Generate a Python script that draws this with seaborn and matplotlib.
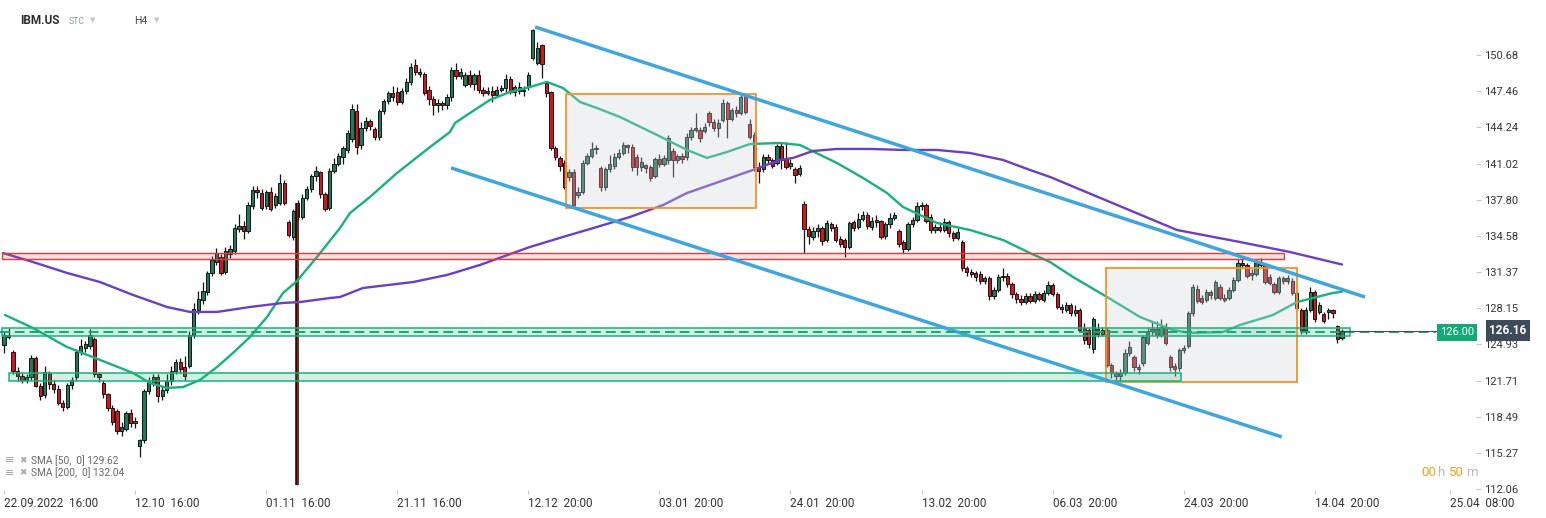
import numpy as np
import pandas as pd
import matplotlib
matplotlib.use("Agg")
import matplotlib.pyplot as plt
import matplotlib.transforms as mtransforms
from matplotlib.patches import Rectangle
import seaborn as sns

# ---------------- data (IBM.US, H4) ----------------
opens = [
    124.9,125.8,124.3,122.6,122.1,121.8,122.0,123.7,121.2,120.4,
    122.4,121.4,121.0,119.7,119.4,121.3,122.0,124.3,124.6,124.8,
    125.4,122.3,121.5,120.5,119.3,119.0,117.2,117.4,118.8,117.9,
    115.9,116.4,120.8,121.5,122.0,120.3,120.9,121.7,122.6,123.4,
    122.9,123.0,125.8,128.0,128.9,129.6,131.3,132.3,132.7,131.4,
    133.0,133.2,135.2,135.5,135.0,137.2,138.7,138.4,137.2,138.5,
    137.3,137.5,139.3,135.8,134.5,137.5,136.3,138.0,138.8,139.9,
    140.3,138.3,137.1,140.4,141.0,141.6,142.2,143.2,145.7,142.7,
    144.2,144.8,144.1,143.4,145.7,146.6,147.3,147.4,146.5,147.5,
    148.3,149.8,149.2,149.0,147.6,146.8,146.2,146.4,146.2,146.9,
    149.3,148.8,148.0,148.9,148.1,148.9,147.6,147.3,147.5,147.1,
    147.6,147.7,148.5,147.4,147.8,147.5,147.8,150.4,150.0,151.6,
    148.2,147.4,142.4,141.5,141.1,139.8,140.3,138.2,138.5,141.1,
    141.7,142.3,140.6,138.9,140.5,140.8,141.6,142.0,142.7,142.5,
    141.6,140.7,140.9,140.7,139.9,141.4,141.0,141.3,142.1,141.3,
    141.7,141.6,143.4,144.0,144.0,143.9,145.5,144.7,144.2,144.9,
    146.4,145.0,145.8,145.5,146.9,144.5,143.6,140.7,140.5,141.6,
    141.3,141.1,142.6,141.5,140.8,140.5,140.1,137.4,135.2,134.5,
    135.0,135.3,134.2,135.6,135.4,134.3,134.2,133.6,135.8,135.4,
    136.1,136.4,135.4,135.8,135.9,134.6,135.6,136.2,135.0,134.0,
    133.4,135.6,136.0,137.2,137.3,136.3,135.1,135.4,135.1,135.8,
    134.8,134.4,134.0,131.7,131.4,131.3,131.2,130.6,130.8,129.2,
    129.8,130.9,131.0,130.3,129.4,129.0,128.7,129.2,128.8,129.4,
    128.9,129.5,130.2,129.4,128.3,128.0,128.4,127.7,128.0,126.4,
    126.2,124.5,126.3,125.9,126.2,123.1,122.4,122.1,122.4,124.2,
    123.8,122.9,123.3,125.1,126.1,126.3,125.8,126.5,123.8,123.0,
    122.8,124.4,124.8,127.7,129.9,129.1,128.9,129.6,129.1,130.0,
    129.1,129.1,129.8,130.7,132.2,132.0,131.1,131.2,132.2,132.0,
    130.9,130.3,129.6,130.8,130.6,130.6,129.5,128.0,126.2,128.0,
    129.6,127.8,127.6,127.8,128.0,126.6,125.5,
]
highs = [
    126.0,126.4,124.4,122.9,122.4,122.3,124.0,123.9,121.5,123.0,
    122.6,121.8,121.3,120.0,121.5,122.0,124.5,125.4,125.2,126.3,
    125.6,122.4,121.8,120.6,119.5,119.2,118.0,119.0,119.2,118.5,
    116.5,121.0,122.0,122.3,122.3,121.2,122.3,123.0,123.6,123.7,
    123.9,126.1,128.6,129.7,130.5,131.5,132.8,133.5,133.0,133.6,
    133.8,135.6,136.5,135.9,137.6,139.0,139.0,138.8,138.7,138.9,
    138.4,140.1,139.6,136.0,137.0,137.8,138.3,139.0,140.1,140.8,
    140.4,138.5,140.6,141.5,142.0,142.6,144.0,146.3,146.3,144.7,
    145.2,145.0,144.3,145.9,146.8,147.5,147.9,147.8,147.7,148.6,
    150.0,150.3,149.5,149.2,147.9,147.0,146.8,146.6,147.2,149.6,
    150.0,149.5,149.2,149.3,149.1,149.3,147.8,147.8,147.9,147.9,
    148.0,149.0,148.8,148.0,148.3,147.9,149.2,153.0,151.8,151.7,
    148.4,147.5,142.6,141.7,141.3,140.5,140.5,138.9,141.3,142.0,
    142.9,142.7,140.8,140.7,141.8,142.0,142.3,142.9,142.8,142.8,
    141.9,141.6,141.0,140.9,141.6,141.9,141.8,143.6,142.4,141.9,
    142.0,143.7,144.3,145.5,144.3,144.6,145.7,145.0,145.0,146.8,
    146.6,146.0,146.1,147.3,147.2,145.0,143.8,141.2,141.9,141.9,
    141.5,142.8,142.9,142.9,141.4,140.7,140.9,137.7,135.5,135.4,
    135.6,135.5,136.0,135.8,135.6,134.6,134.4,135.9,136.0,136.6,
    136.8,136.7,136.3,136.4,136.0,135.8,136.6,136.7,135.2,134.2,
    135.8,136.3,137.6,137.6,137.5,136.5,135.6,135.8,136.2,136.0,
    135.0,135.3,134.2,131.9,131.6,131.5,131.5,131.0,131.0,130.0,
    131.2,131.7,131.3,130.5,129.6,129.3,129.5,129.5,129.7,129.6,
    129.8,130.6,130.4,129.6,128.5,128.7,128.6,128.4,128.2,126.8,
    126.4,127.4,126.8,126.5,126.4,123.3,122.6,122.7,124.5,125.2,
    124.0,123.2,125.8,126.4,127.0,127.0,127.2,126.8,124.0,123.3,
    124.6,124.9,127.9,130.3,130.2,129.3,129.9,129.8,130.7,130.3,
    129.4,130.0,130.9,132.5,132.6,132.2,131.6,132.5,132.6,132.2,
    131.2,130.5,131.0,131.0,131.1,130.8,129.7,128.2,128.3,130.0,
    129.8,128.7,127.8,128.2,128.1,126.7,126.3,
]
lows = [
    124.2,125.4,122.3,121.7,121.5,121.5,121.8,121.1,120.0,120.2,
    121.0,120.6,119.5,119.0,119.2,121.0,121.8,124.0,124.3,124.5,
    122.0,121.6,120.2,119.0,117.8,117.0,116.8,117.2,117.6,117.5,
    114.9,116.2,120.5,121.2,119.8,120.0,120.6,121.3,122.3,122.4,
    121.8,122.8,125.5,127.6,128.5,129.3,131.0,132.0,131.1,131.2,
    132.6,133.0,134.9,134.3,134.8,137.0,138.0,136.9,137.0,136.8,
    137.1,137.3,137.3,134.5,134.2,136.0,136.1,137.8,138.5,139.5,
    138.0,136.8,136.9,140.2,140.8,141.0,142.0,142.9,141.9,142.3,
    143.9,144.0,143.1,143.1,145.4,146.3,146.6,146.2,146.3,147.2,
    148.0,148.9,148.7,147.1,146.2,145.3,145.6,145.8,145.9,146.6,
    148.5,148.5,147.8,147.8,147.6,147.3,147.0,147.1,146.5,146.9,
    147.4,147.4,147.2,147.0,147.2,147.0,147.6,150.2,149.8,148.6,
    146.9,142.2,141.3,140.4,138.8,139.5,137.1,138.0,138.3,140.9,
    141.5,141.9,138.6,138.7,140.3,140.5,141.4,141.8,142.0,140.4,
    140.0,140.4,140.2,139.5,139.7,140.7,140.8,141.0,139.8,141.1,
    141.1,141.3,143.1,143.8,142.9,143.7,144.4,143.9,143.4,144.7,
    143.3,144.8,145.2,145.3,145.4,143.2,140.4,139.3,140.3,141.0,
    140.6,140.9,140.5,140.5,140.5,139.3,139.9,133.1,133.9,134.2,
    134.5,133.8,134.0,135.0,134.0,133.6,132.7,133.4,135.0,135.2,
    135.9,135.2,135.1,135.4,134.3,134.3,135.3,136.0,133.6,133.1,
    133.2,135.4,135.8,136.9,135.7,134.8,134.8,134.9,134.9,134.5,
    134.1,134.2,131.5,131.0,130.9,130.6,130.3,130.3,128.9,129.0,
    129.6,130.6,130.0,129.1,128.6,128.4,128.5,128.6,128.6,128.8,
    128.7,129.3,129.2,128.1,127.7,127.8,127.5,127.5,126.0,125.0,
    124.6,124.2,125.6,125.7,122.9,121.9,121.6,121.7,122.2,123.9,
    122.6,122.3,123.0,124.9,125.8,125.5,125.6,124.9,122.6,122.1,
    122.6,124.2,124.6,127.5,128.6,128.5,128.7,129.0,128.9,128.9,
    128.7,128.9,129.6,130.5,131.7,130.8,130.7,131.0,131.8,130.3,
    130.2,129.4,129.4,130.3,130.3,129.3,127.9,125.9,125.9,127.8,
    126.9,127.6,126.8,127.2,127.3,125.1,125.3,
]
closes = [
    125.8,125.6,122.6,122.1,121.8,122.0,123.7,121.2,120.3,122.5,
    121.4,121.0,119.7,119.4,121.3,121.8,124.3,124.8,125.0,125.8,
    122.3,122.0,120.5,119.3,118.0,117.2,117.6,118.8,117.9,118.1,
    116.4,120.8,121.6,122.0,120.3,120.9,121.7,122.6,123.4,122.7,
    122.1,125.8,128.1,129.0,129.7,131.3,132.4,133.1,131.3,133.2,
    133.4,135.3,135.5,135.0,137.3,138.7,138.5,137.1,138.5,137.0,
    138.1,139.3,137.5,134.7,136.8,136.3,138.0,138.8,139.9,140.4,
    138.3,137.0,140.4,141.0,141.7,142.4,143.7,145.9,142.5,144.2,
    144.8,144.4,143.4,145.7,146.6,147.3,146.9,146.5,147.5,148.3,
    149.6,149.2,149.0,147.3,146.8,146.2,146.4,146.2,146.9,149.3,
    148.8,149.2,148.9,148.1,148.9,147.6,147.3,147.5,147.1,147.6,
    147.7,148.5,147.4,147.8,147.5,147.6,148.9,152.9,151.3,149.9,
    147.3,142.4,141.6,140.8,138.9,140.3,137.3,138.5,141.1,141.7,
    142.3,142.4,138.9,140.5,141.0,141.6,142.0,142.7,142.5,140.7,
    140.7,141.2,140.6,139.7,141.4,141.0,141.5,143.3,141.3,141.7,
    141.4,143.4,144.0,144.2,143.3,144.3,144.7,144.2,144.6,146.4,
    145.0,145.8,145.5,146.9,145.6,143.4,140.7,140.4,141.6,141.3,
    140.8,142.6,141.3,140.7,141.1,140.0,140.6,135.2,134.6,135.0,
    135.3,134.1,135.7,135.3,134.2,133.9,133.6,135.7,135.3,136.1,
    136.4,135.5,135.9,136.0,134.5,135.6,136.2,136.4,133.9,133.4,
    135.6,136.0,137.2,137.3,135.9,135.1,135.4,135.1,135.8,134.8,
    134.4,134.9,131.7,131.4,131.2,130.9,130.6,130.8,129.2,129.8,
    130.9,131.0,130.3,129.4,129.0,128.7,129.2,128.8,129.4,129.0,
    129.5,130.2,129.4,128.3,128.1,128.4,127.7,128.0,126.2,125.3,
    125.0,127.2,125.9,126.2,123.1,122.4,122.1,122.4,124.2,124.7,
    122.9,122.7,125.6,126.1,126.3,125.8,126.5,125.1,122.9,122.7,
    124.4,124.6,127.7,130.0,128.8,128.7,129.6,129.3,130.5,129.1,
    128.9,129.8,130.7,132.2,132.0,131.0,131.3,132.2,132.0,130.5,
    130.4,129.6,130.8,130.6,130.8,129.5,128.2,126.2,128.0,129.6,
    127.2,128.4,127.0,128.0,127.7,125.4,126.16,
]

# moving averages (bar position, value)
sma50_bars = [0.22,6.42,13.94,21.24,28.54,32.30,36.06,39.60,43.36,47.12,
              50.66,54.42,58.19,61.73,64.82,69.25,74.34,76.55,80.97,86.95,
              94.25,98.67,99.78,103.10,107.52,111.95,116.37,120.13,123.67,127.43,
              131.19,136.28,143.58,151.11,155.53,159.96,165.04,171.68,176.11,178.32,
              184.29,190.04,195.35,198.89,206.42,213.72,221.02,226.99,231.42,236.50,
              244.03,251.33,258.63,262.39,269.69,273.45,280.75,286.06,290.49,294.03,
              296.02]
sma50 = [127.55,126.39,124.70,123.55,122.39,121.50,121.06,121.14,121.77,122.92,
         124.17,125.59,127.37,129.51,130.57,132.71,135.29,136.62,138.05,140.18,
         142.49,143.83,144.63,145.52,146.68,147.39,147.83,148.28,147.74,146.50,
         145.96,145.16,143.74,142.23,141.52,142.05,142.76,142.85,142.67,142.23,
         141.07,139.74,138.40,137.16,135.73,135.11,134.22,133.06,132.26,130.93,
         129.15,127.37,126.21,125.95,126.04,126.66,127.55,128.70,129.15,129.51,
         129.62]
sma200_bars = [-0.22,6.42,13.94,21.24,28.54,36.06,41.15,47.12,54.42,61.73,
               65.49,72.12,74.34,79.42,90.49,98.01,105.31,112.61,116.37,123.67,
               131.19,138.50,145.80,151.11,165.71,171.68,174.56,178.98,184.29,191.59,
               198.89,206.42,213.72,221.02,226.99,231.42,259.51,273.45,284.51,296.02]
sma200 = [133.06,132.26,131.29,130.48,129.33,128.26,127.82,127.82,128.26,128.62,
          128.70,129.06,129.15,129.95,130.48,131.11,132.00,133.06,133.60,134.49,
          135.38,136.27,137.33,138.40,140.45,141.34,141.52,142.14,142.32,142.32,
          142.23,142.23,141.96,141.34,140.45,139.83,135.11,134.04,133.15,132.04]

ytick_vals = [150.68,147.46,144.24,141.02,137.80,134.58,131.37,128.15,124.93,
              121.71,118.49,115.27,112.06]
xtick_bars = [0,29,58,87,116,145,174,203,232,261,290,320]
xtick_labels = ["22.09.2022  16:00","12.10  16:00","01.11  16:00","21.11  16:00",
                "12.12  20:00","03.01  20:00","24.01  20:00","13.02  20:00",
                "06.03  20:00","24.03  20:00","14.04  20:00","25.04  08:00"]

# drawings: [bar_start, bar_end, price_low, price_high]
red_zone = [-0.44, 283.2, 132.53, 133.06]
green_zone_hi = [-0.44, 297.8, 125.68, 126.39]
green_zone_lo = [1.1, 260.4, 121.68, 122.39]
box1 = [124.3, 166.4, 137.07, 147.21]
box2 = [243.8, 286.1, 121.59, 131.73]
channel_upper = [[117.5, 301.1], [153.17, 129.15]]
channel_lower = [[98.9, 282.7], [140.63, 116.70]]
vline_bar, vline_top, vline_bottom = 64.8, 137.5, 112.4
level_price = 126.00
last_price = 126.16
sma50_last, sma200_last = 129.62, 132.04

# ---------------- figure ----------------
sns.set_theme(style="white")
plt.rcParams['font.family'] = ['Roboto', 'DejaVu Sans']

W, H = 1546, 518
PXB = 4.52     # pixels per bar
X0 = 4         # pixel of bar 0
fig = plt.figure(figsize=(W / 100, H / 100), dpi=100)
fig.patch.set_facecolor('white')
ax = fig.add_axes([0, 28 / H, 1476 / W, 490 / H])
ax.set_facecolor('white')
xmin, xmax = (0 - X0) / PXB, (1476 - X0) / PXB
ax.set_xlim(xmin, xmax)
ax.set_ylim(111.98, 155.57)

def bar_of(px):
    return (px - X0) / PXB

GREEN = '#207a58'
RED = '#d3141c'
df = pd.DataFrame({'o': opens, 'h': highs, 'l': lows, 'c': closes})
df['bar'] = np.arange(len(df))
up = (df.c >= df.o).values
body_bottom = np.minimum(df.o, df.c)
body_h = np.maximum((df.c - df.o).abs(), 0.07)
ax.vlines(df.bar, df.l, df.h, color='#151515', lw=0.9, zorder=2)
ax.bar(df.bar, body_h, bottom=body_bottom, width=0.72,
       color=np.where(up, GREEN, RED), edgecolor='#151515', linewidth=0.7, zorder=3)

# vertical line marker
ax.vlines(vline_bar, vline_bottom, vline_top, color='#111111', lw=2.6, zorder=3)
ax.vlines(vline_bar, vline_bottom, vline_top, color='#c21010', lw=0.7, zorder=3)

# moving averages
sns.lineplot(x=sma50_bars, y=sma50, ax=ax, color='#17b27c', lw=1.7, zorder=4)
sns.lineplot(x=sma200_bars, y=sma200, ax=ax, color='#6a3fc6', lw=1.7, zorder=4)

def zone(r, fc, alpha, ec, z=5, lw=1.2):
    ax.add_patch(Rectangle((r[0], r[2]), r[1] - r[0], r[3] - r[2], facecolor=fc,
                           alpha=alpha, edgecolor='none', zorder=z))
    ax.add_patch(Rectangle((r[0], r[2]), r[1] - r[0], r[3] - r[2], facecolor='none',
                           edgecolor=ec, lw=lw, zorder=z + 0.1))

zone(box1, '#cfd3d9', 0.3, '#f7931e', lw=1.3)
zone(box2, '#cfd3d9', 0.3, '#f7931e', lw=1.3)
zone(red_zone, '#f04848', 0.17, '#e03a3a', lw=1.0)
zone(green_zone_hi, '#20b27a', 0.2, '#1bb07a', lw=1.1)
zone(green_zone_lo, '#20b27a', 0.2, '#1bb07a', lw=1.1)

# channel
for ln in (channel_upper, channel_lower):
    ax.plot(ln[0], ln[1], color='#3ea6dd', lw=2.5, solid_capstyle='butt', zorder=6)

# level line, last price line
ax.plot([xmin, bar_of(1436)], [level_price, level_price], color='#16a974', lw=1.4,
        dashes=(5, 2.6), zorder=7)
ax.plot([len(df) - 0.5, xmax], [last_price, last_price], color='#4d4d4d', lw=0.8, zorder=7)
ax.text(bar_of(1457), level_price, f"{level_price:.2f}", ha='center', va='center',
        color='white', fontsize=8, zorder=8,
        bbox=dict(boxstyle='square,pad=0.28', fc='#14a877', ec='none'))
blend = mtransforms.blended_transform_factory(fig.transFigure, ax.transData)
ax.text(1508 / W, last_price, f"{last_price:.2f}", transform=blend, ha='center',
        va='center', color='white', fontsize=8.5, fontweight='bold', zorder=8,
        clip_on=False, bbox=dict(boxstyle='square,pad=0.32', fc='#3e4c59', ec='none'))

# axes styling
for s in ax.spines.values():
    s.set_visible(False)
ax.set_xlabel('')
ax.set_ylabel('')
ax.yaxis.tick_right()
ax.set_yticks(ytick_vals)
ax.set_yticklabels([f"{v:.2f}" for v in ytick_vals])
ax.tick_params(axis='y', which='both', right=True, left=False, direction='out',
               length=3.6, width=0.8, color='#c8c8c8', pad=2.5, labelsize=8,
               labelcolor='#333333')
ax.set_xticks(xtick_bars)
ax.set_xticklabels(xtick_labels)
for t in ax.get_xticklabels():
    t.set_horizontalalignment('left')
ax.tick_params(axis='x', which='both', bottom=True, direction='out', length=3,
               width=0.8, color='#c8c8c8', pad=2, labelsize=8.5, labelcolor='#333333')
ax.grid(False)

# header texts
def fx(px):
    return px / W
def fy(py):
    return 1 - py / H

fig.text(fx(20), fy(21), "IBM.US", fontsize=8.5, fontweight='bold', color='#2b2b2b',
         va='center', ha='left')
fig.text(fx(69), fy(21), "STC", fontsize=6.3, color='#8897a6', va='center', ha='left')
fig.text(fx(90), fy(20), "▼", fontsize=5, color='#c4c4c4', va='center', ha='left',
         family=['DejaVu Sans'])
fig.text(fx(134), fy(21), "H4", fontsize=7.5, color='#444444', va='center', ha='left')
fig.text(fx(154), fy(20), "▼", fontsize=5, color='#c4c4c4', va='center', ha='left',
         family=['DejaVu Sans'])

# indicator legend
for row, (name, val) in enumerate([("SMA [50,  0]", sma50_last), ("SMA [200,  0]", sma200_last)]):
    yy = 460.5 + row * 12.5
    fig.text(fx(5), fy(yy), "≡", fontsize=8, color='#a0a0a0', va='center', ha='left',
             family=['DejaVu Sans'])
    fig.text(fx(19), fy(yy), "✖", fontsize=6.5, color='#a8a8a8', va='center', ha='left',
             family=['DejaVu Sans'])
    fig.text(fx(31), fy(yy), f"{name} {val:.2f}", fontsize=7.3, color='#666666',
             va='center', ha='left')

# countdown
fig.text(fx(1421), fy(473), "00", fontsize=9.5, color='#f7a11a', va='center', ha='left')
fig.text(fx(1437), fy(473), "h", fontsize=9.5, color='#b3bac2', va='center', ha='left')
fig.text(fx(1449), fy(473), "50", fontsize=9.5, color='#f7a11a', va='center', ha='left')
fig.text(fx(1466), fy(473), "m", fontsize=9.5, color='#b3bac2', va='center', ha='left')

fig.savefig("out.png", dpi=100, facecolor='white')
